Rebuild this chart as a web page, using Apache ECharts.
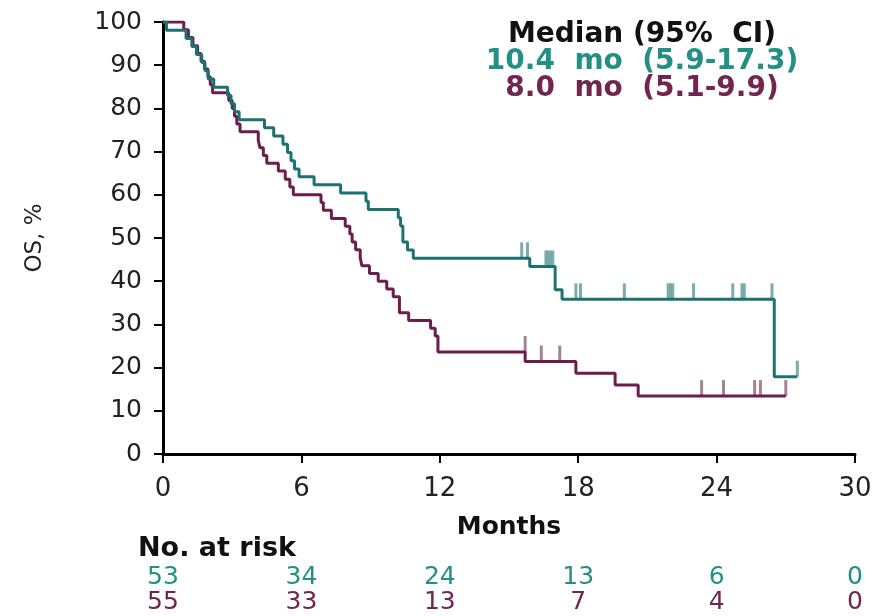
<!DOCTYPE html>
<html><head><meta charset="utf-8">
<script src="https://cdn.jsdelivr.net/npm/echarts@6/dist/echarts.min.js"></script>
<style>html,body{margin:0;padding:0;background:#fff}#c{width:883px;height:616px}</style>
</head><body><div id="c"></div>
<script>
// ---- data ----
const xTicks = [0, 6, 12, 18, 24, 30];
const riskA = [53, 34, 24, 13, 6, 0];
const riskB = [55, 33, 13, 7, 4, 0];
const medianHeader = 'Median (95%  CI)';
const medianA = '10.4  mo  (5.9-17.3)';
const medianB = '8.0  mo  (5.1-9.9)';
// KM curve arm A (teal): [month, OS %]
const kmA = [[0,100],[0.15,98.1],[1.0,96.2],[1.25,94.3],[1.45,92.5],[1.68,90.6],[1.82,88.7],[1.96,86.8],[2.2,84.9],[2.8,83.0],[2.95,81.1],[3.1,79.2],[3.3,77.4],[4.4,75.5],[4.8,73.6],[5.2,71.7],[5.4,69.8],[5.55,67.9],[5.7,66.0],[5.9,64.2],[6.55,62.3],[7.7,60.4],[8.8,58.5],[8.9,56.6],[10.2,54.7],[10.3,52.8],[10.4,49.1],[10.6,47.2],[10.85,45.3],[15.9,43.4],[17.0,38.0],[17.3,35.8],[26.5,17.9],[27.5,17.9]];
// KM curve arm B (maroon)
const kmB = [[0,100],[0.9,98.2],[1.1,96.4],[1.3,94.5],[1.5,92.7],[1.65,90.9],[1.8,89.1],[1.95,87.3],[2.05,85.5],[2.15,83.6],[2.85,81.8],[3.0,80.0],[3.1,78.2],[3.2,76.4],[3.34,74.6],[4.13,72.7],[4.2,70.9],[4.35,69.1],[4.5,67.3],[5.0,65.5],[5.3,63.6],[5.5,61.8],[5.65,60.0],[6.85,58.2],[6.95,56.4],[7.3,54.5],[7.9,52.7],[8.1,50.9],[8.2,49.1],[8.35,47.3],[8.55,45.5],[8.62,43.6],[8.95,41.8],[9.33,40.0],[9.7,38.2],[9.98,36.4],[10.25,32.7],[10.65,30.9],[11.6,29.1],[11.8,27.3],[11.92,23.6],[15.7,21.4],[17.9,18.7],[19.6,16.0],[20.6,13.4],[27.0,13.4]];
// censor marks
const censorA = [[15.55,45.3],[15.8,45.3],[16.6,43.4],[16.7,43.4],[16.8,43.4],[16.9,43.4],[17.9,35.8],[18.1,35.8],[20.0,35.8],[21.9,35.8],[22.0,35.8],[22.1,35.8],[23.0,35.8],[24.7,35.8],[25.1,35.8],[25.2,35.8],[26.4,35.8],[27.5,17.9]];
const censorB = [[15.7,23.6],[16.4,21.4],[17.2,21.4],[23.35,13.4],[24.3,13.4],[25.65,13.4],[25.9,13.4],[27.0,13.4]];

const TEAL = '#1c7171', MAROON = '#6d1d4b';
const TEAL_T = '#248f84', MAROON_T = '#72264f';
const F = 'DejaVu Sans';

const chart = echarts.init(document.getElementById('c'), null, {renderer: 'canvas'});
const riskLabel = color => ({show: true, position: 'inside', formatter: p => String(p.value[2]), fontFamily: F, fontSize: 25, color: color});
const option = {
  animation: false,
  backgroundColor: '#fff',
  grid: [
    {left: 163, right: 28, top: 22, bottom: 162},
    {left: 163, right: 28, top: 565, height: 50}
  ],
  xAxis: [{
    gridIndex: 0, type: 'value', min: 0, max: 30, interval: 6,
    axisLine: {show: true, lineStyle: {color: '#000', width: 3}},
    axisTick: {show: true, length: 9, lineStyle: {color: '#000', width: 2}},
    axisLabel: {fontFamily: F, fontSize: 26, color: '#222', margin: 22},
    splitLine: {show: false},
    name: 'Months', nameLocation: 'middle', nameGap: 61,
    nameTextStyle: {fontFamily: F, fontSize: 25, fontWeight: 'bold', color: '#111'}
  }, {
    gridIndex: 1, type: 'value', min: 0, max: 30, interval: 6, show: false
  }],
  yAxis: [{
    gridIndex: 0, type: 'value', min: 0, max: 100, interval: 10,
    axisLine: {show: true, lineStyle: {color: '#000', width: 3}},
    axisTick: {show: true, length: 9, lineStyle: {color: '#000', width: 2}},
    axisLabel: {fontFamily: F, fontSize: 25, color: '#222', margin: 21},
    splitLine: {show: false},
    name: 'OS, %', nameLocation: 'middle', nameGap: 116, nameRotate: 90,
    nameTextStyle: {fontFamily: F, fontSize: 23, color: '#222'}
  }, {
    gridIndex: 1, type: 'category', data: ['A', 'B'], inverse: true, show: false
  }],
  graphic: [
    {type: 'text', x: 642, y: 21, style: {text: medianHeader, font: 'bold 28px "DejaVu Sans"', fill: '#111', align: 'center'}},
    {type: 'text', x: 642, y: 48, style: {text: medianA, font: 'bold 28px "DejaVu Sans"', fill: TEAL_T, align: 'center'}},
    {type: 'text', x: 642, y: 75, style: {text: medianB, font: 'bold 28px "DejaVu Sans"', fill: MAROON_T, align: 'center'}},
    {type: 'text', x: 138, y: 535, style: {text: 'No. at risk', font: 'bold 27px "DejaVu Sans"', fill: '#111'}}
  ],
  series: [
    {type: 'line', xAxisIndex: 0, yAxisIndex: 0, step: 'end', data: kmA, showSymbol: false, symbol: 'none',
     lineStyle: {color: TEAL, width: 3}, z: 3},
    {type: 'line', xAxisIndex: 0, yAxisIndex: 0, step: 'end', data: kmB, showSymbol: false, symbol: 'none',
     lineStyle: {color: MAROON, width: 3}, z: 2},
    {type: 'scatter', xAxisIndex: 0, yAxisIndex: 0, data: censorA, symbol: 'rect', symbolSize: [3, 16], symbolOffset: [0, -8],
     itemStyle: {color: '#6fa3a3', opacity: 0.9}, z: 1},
    {type: 'scatter', xAxisIndex: 0, yAxisIndex: 0, data: censorB, symbol: 'rect', symbolSize: [3, 16], symbolOffset: [0, -8],
     itemStyle: {color: '#9a7388', opacity: 0.9}, z: 1},
    {type: 'scatter', xAxisIndex: 1, yAxisIndex: 1, symbolSize: 1, itemStyle: {color: 'rgba(0,0,0,0)', opacity: 1},
     data: xTicks.map((m, i) => [m, 'A', riskA[i]]), label: riskLabel(TEAL_T)},
    {type: 'scatter', xAxisIndex: 1, yAxisIndex: 1, symbolSize: 1, itemStyle: {color: 'rgba(0,0,0,0)', opacity: 1},
     data: xTicks.map((m, i) => [m, 'B', riskB[i]]), label: riskLabel(MAROON_T)}
  ]
};
chart.setOption(option);
</script></body></html>
